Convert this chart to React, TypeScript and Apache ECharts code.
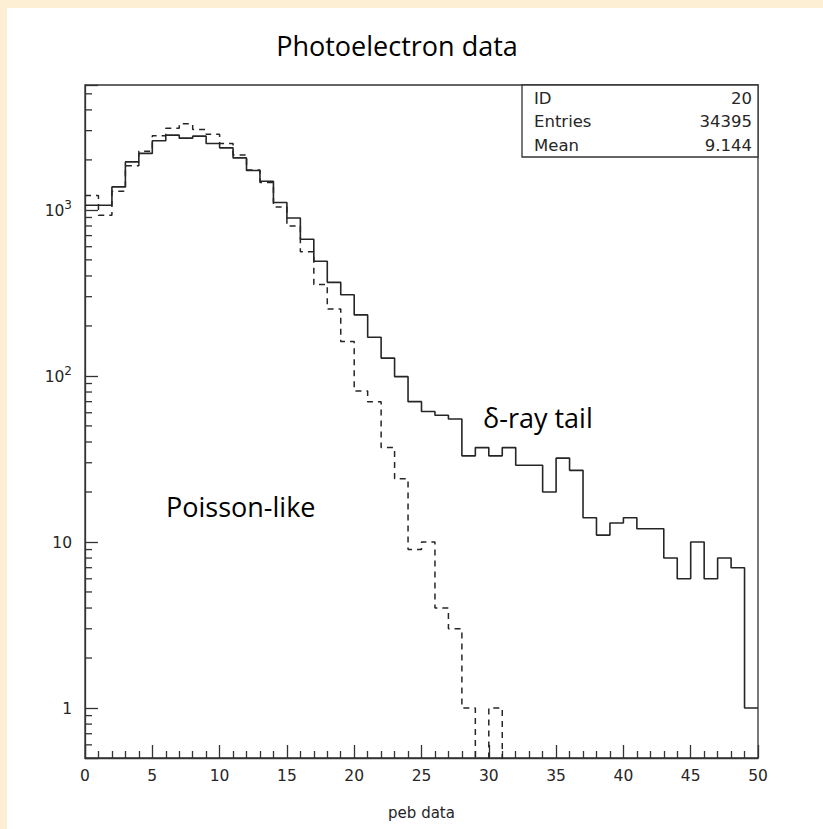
import React, { useEffect, useRef } from "react";
import * as echarts from "echarts";

// ---- data ----
// bin k covers [k, k+1) on the x axis
const solidCounts = [
  1066, 1066, 1375, 1945, 2188, 2606, 2820, 2704, 2780, 2512,
  2364, 2056, 1726, 1488, 1107, 893, 665, 490, 366, 308,
  233, 171, 128, 99, 70, 61, 58, 55, 33, 37,
  33, 37, 29, 29, 20, 32, 27, 14, 11, 13,
  14, 12, 12, 8, 6, 10, 6, 8, 7, 1,
];
const dashedCounts = [
  1220, 928, 1295, 1842, 2258, 2800, 3100, 3300, 3050, 2850,
  2510, 2140, 1740, 1460, 1042, 800, 560, 355, 253, 161,
  81, 70, 37, 24, 9, 10, 4, 3, 1, 0,
  1, 0,
];
const statsLabels = ["ID", "Entries", "Mean"];
const statsValues = ["20", "34395", "9.144"];
const titleText = "Photoelectron data";
const xAxisName = "peb data";
const annotations = ["Poisson-like", "\u03b4-ray tail"];

const X_MIN = 0;
const X_MAX = 50;
const X_INTERVAL = 5;
const Y_MIN = 0.5;
const Y_MAX = 5650;
const ZERO_FLOOR = 0.05; // empty bins drawn below the axis floor (clipped)

const INK = "#262626";

function histPoints(counts: number[]) {
  const pts: number[][] = counts.map((c, k) => [k, c > 0 ? c : ZERO_FLOOR]);
  const last = counts[counts.length - 1];
  pts.push([counts.length, last > 0 ? last : ZERO_FLOOR]);
  return pts;
}

function minorYTicks() {
  const out: number[][] = [];
  for (let e = -1; e <= 3; e++) {
    for (let m = 2; m <= 9; m++) {
      const v = m * Math.pow(10, e);
      if (v > Y_MIN * 1.001 && v < Y_MAX) out.push([X_MIN, v]);
    }
  }
  return out;
}

export default function App() {
  const ref = useRef<HTMLDivElement>(null);

  useEffect(() => {
    if (!ref.current) return;
    const chart = echarts.init(ref.current, undefined, { renderer: "svg" });

    const tickStyle = { color: "#333", width: 1.3 };
    const pawFont = "DejaVu Sans";

    const option: any = {
      animation: false,
      backgroundColor: "#ffffff",
      grid: {
        left: 85,
        right: 65,
        top: 85,
        bottom: 71,
        show: true,
        borderColor: "#333",
        borderWidth: 1.3,
        backgroundColor: "#ffffff",
      },
      xAxis: {
        type: "value",
        min: X_MIN,
        max: X_MAX,
        interval: X_INTERVAL,
        axisLine: { show: true, onZero: false, lineStyle: tickStyle },
        axisTick: { show: true, inside: true, length: 13, lineStyle: tickStyle },
        minorTick: { show: true, splitNumber: 5, length: 7, lineStyle: tickStyle },
        splitLine: { show: false },
        minorSplitLine: { show: false },
        axisLabel: {
          margin: 10,
          fontFamily: pawFont,
          fontSize: 15.5,
          color: INK,
        },
        name: xAxisName,
        nameLocation: "middle",
        nameGap: 47,
        nameTextStyle: { fontFamily: pawFont, fontSize: 15, color: INK },
      },
      yAxis: {
        type: "log",
        logBase: 10,
        min: Y_MIN,
        max: Y_MAX,
        axisLine: { show: true, lineStyle: tickStyle },
        axisTick: { show: true, inside: true, length: 13, lineStyle: tickStyle },
        splitLine: { show: false },
        axisLabel: {
          margin: 13,
          formatter: (v: number) => {
            const e = Math.log10(v);
            const r = Math.round(e);
            if (Math.abs(e - r) > 1e-6) return "";
            if (r === 0) return "{base|1}";
            if (r === 1) return "{base|10}";
            return "{base|10}{sup|" + r + "}";
          },
          rich: {
            base: {
              fontFamily: pawFont,
              fontSize: 15.5,
              color: INK,
              verticalAlign: "bottom",
              lineHeight: 18,
            },
            sup: {
              fontFamily: pawFont,
              fontSize: 12,
              color: INK,
              verticalAlign: "bottom",
              lineHeight: 14,
              padding: [0, 0, 8, 0],
            },
          },
        },
      },
      series: [
        {
          type: "line",
          step: "end",
          symbol: "none",
          data: histPoints(solidCounts),
          lineStyle: { color: INK, width: 1.6 },
          clip: true,
          z: 3,
        },
        {
          type: "line",
          step: "end",
          symbol: "none",
          data: histPoints(dashedCounts),
          lineStyle: { color: INK, width: 1.5, type: [6, 5] },
          clip: true,
          z: 3,
        },
        {
          type: "custom",
          silent: true,
          data: minorYTicks(),
          renderItem: (_p: any, api: any) => {
            const pt = api.coord([api.value(0), api.value(1)]);
            return {
              type: "line",
              shape: { x1: pt[0], y1: pt[1], x2: pt[0] + 7, y2: pt[1] },
              style: { stroke: "#333", lineWidth: 1.3 },
            };
          },
          z: 4,
        },
      ],
      graphic: [
        {
          type: "rect",
          z: -10,
          shape: { x: 0, y: 0, width: 7, height: 829 },
          style: { fill: "#FCEFD3" },
        },
        {
          type: "rect",
          z: -10,
          shape: { x: 0, y: 0, width: 823, height: 8 },
          style: { fill: "#FCEFD3" },
        },
        {
          type: "text",
          x: 397,
          y: 45,
          style: {
            text: titleText,
            fontFamily: "Open Sans",
            fontSize: 27,
            fill: "#000",
            align: "center",
            verticalAlign: "middle",
          },
        },
        {
          type: "text",
          x: 166,
          y: 506,
          style: {
            text: annotations[0],
            fontFamily: "Open Sans",
            fontSize: 27,
            fill: "#000",
            align: "left",
            verticalAlign: "middle",
          },
        },
        {
          type: "text",
          x: 483,
          y: 417,
          style: {
            text: annotations[1],
            fontFamily: "Open Sans",
            fontSize: 27,
            fill: "#000",
            align: "left",
            verticalAlign: "middle",
          },
        },
        {
          type: "rect",
          z: 10,
          shape: { x: 522, y: 85, width: 236, height: 72 },
          style: { fill: "#fff", stroke: "#333", lineWidth: 1.3 },
        },
        ...statsLabels.map((t, i) => ({
          type: "text",
          z: 11,
          x: 534,
          y: 98 + i * 23.5,
          style: {
            text: t,
            fontFamily: pawFont,
            fontSize: 16.5,
            fill: INK,
            align: "left",
            verticalAlign: "middle",
          },
        })),
        ...statsValues.map((t, i) => ({
          type: "text",
          z: 11,
          x: 752,
          y: 98 + i * 23.5,
          style: {
            text: t,
            fontFamily: pawFont,
            fontSize: 16.5,
            fill: INK,
            align: "right",
            verticalAlign: "middle",
          },
        })),
      ],
    };

    chart.setOption(option);
    return () => chart.dispose();
  }, []);

  return (
    <div
      ref={ref}
      style={{ position: "fixed", left: 0, top: 0, width: 823, height: 829 }}
    />
  );
}
